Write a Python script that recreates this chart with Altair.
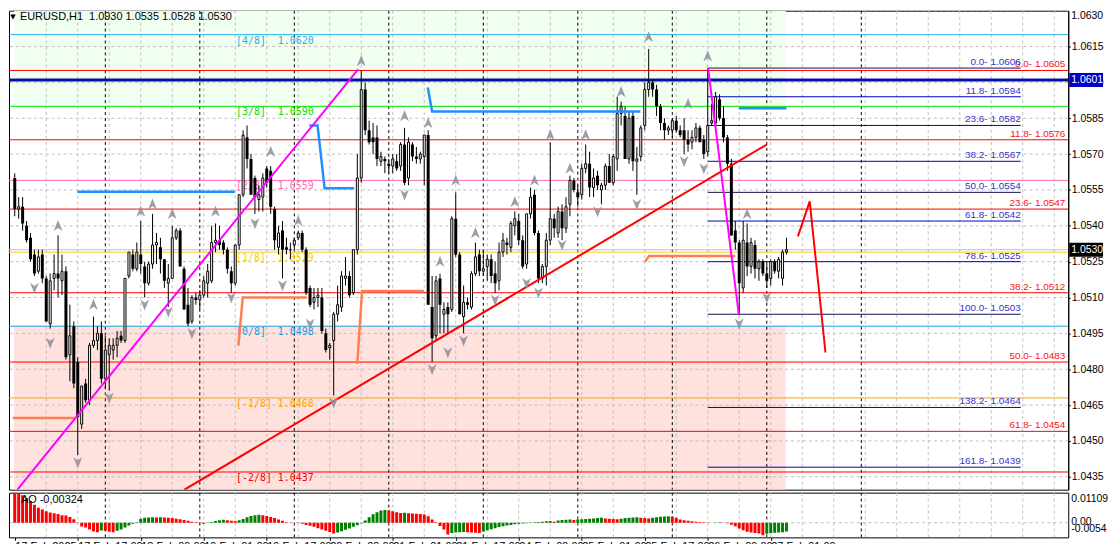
import altair as alt
import pandas as pd

# ---------------- data ----------------
opens = [
    1.0560, 1.0547, 1.0548, 1.0540, 1.0535, 1.0528, 1.0521, 1.0528, 1.0518, 1.0499,
    1.0518, 1.0520, 1.0517, 1.0521, 1.0486, 1.0498, 1.0483, 1.0457, 1.0474, 1.0467,
    1.0490, 1.0492, 1.0495, 1.0476, 1.0486, 1.0488, 1.0490, 1.0494, 1.0492, 1.0519,
    1.0528, 1.0522, 1.0528, 1.0523, 1.0516, 1.0524, 1.0532, 1.0531, 1.0526, 1.0516,
    1.0518, 1.0535, 1.0538, 1.0522, 1.0507, 1.0500, 1.0510, 1.0509, 1.0511, 1.0516,
    1.0517, 1.0533, 1.0534, 1.0533, 1.0530, 1.0521, 1.0516, 1.0532, 1.0553, 1.0577,
    1.0568, 1.0560, 1.0551, 1.0552, 1.0564, 1.0563, 1.0547, 1.0531, 1.0538, 1.0531,
    1.0530, 1.0532, 1.0535, 1.0537, 1.0530, 1.0514, 1.0508, 1.0510, 1.0510, 1.0495,
    1.0489, 1.0492, 1.0503, 1.0506, 1.0518, 1.0519, 1.0512, 1.0530, 1.0560, 1.0597,
    1.0580, 1.0577, 1.0577, 1.0567, 1.0568, 1.0566, 1.0565, 1.0567, 1.0565, 1.0574,
    1.0560, 1.0574, 1.0569, 1.0568, 1.0569, 1.0578, 1.0506, 1.0494, 1.0518, 1.0503,
    1.0506, 1.0505, 1.0543, 1.0528, 1.0502, 1.0508, 1.0506, 1.0520, 1.0528, 1.0521,
    1.0523, 1.0526, 1.0520, 1.0517, 1.0529, 1.0533, 1.0531, 1.0540, 1.0542, 1.0534,
    1.0524, 1.0545, 1.0553, 1.0537, 1.0518, 1.0523, 1.0534, 1.0543, 1.0537, 1.0546,
    1.0539, 1.0549, 1.0559, 1.0554, 1.0553, 1.0564, 1.0566, 1.0556, 1.0561, 1.0555,
    1.0557, 1.0565, 1.0558, 1.0568, 1.0587, 1.0586, 1.0568, 1.0586, 1.0567, 1.0569,
    1.0582, 1.0597, 1.0600, 1.0597, 1.0590, 1.0583, 1.0580, 1.0580, 1.0584, 1.0580,
    1.0580, 1.0576, 1.0575, 1.0577, 1.0581, 1.0576, 1.0571, 1.0583, 1.0583, 1.0593,
    1.0585, 1.0577, 1.0566, 1.0538, 1.0533, 1.0514, 1.0533, 1.0523, 1.0532, 1.0522,
    1.0525, 1.0520, 1.0518, 1.0525, 1.0521, 1.0518, 1.0529]
highs = [
    1.0562, 1.0552, 1.0552, 1.0542, 1.0537, 1.0530, 1.0530, 1.0530, 1.0519, 1.0520,
    1.0528, 1.0536, 1.0528, 1.0523, 1.0507, 1.0500, 1.0485, 1.0473, 1.0476, 1.0491,
    1.0502, 1.0498, 1.0500, 1.0494, 1.0493, 1.0493, 1.0496, 1.0496, 1.0518, 1.0529,
    1.0530, 1.0533, 1.0542, 1.0525, 1.0525, 1.0545, 1.0537, 1.0535, 1.0526, 1.0524,
    1.0540, 1.0539, 1.0539, 1.0523, 1.0514, 1.0511, 1.0512, 1.0513, 1.0519, 1.0524,
    1.0540, 1.0541, 1.0540, 1.0534, 1.0531, 1.0523, 1.0532, 1.0553, 1.0580, 1.0582,
    1.0570, 1.0561, 1.0557, 1.0562, 1.0565, 1.0565, 1.0548, 1.0540, 1.0542, 1.0535,
    1.0533, 1.0535, 1.0538, 1.0538, 1.0531, 1.0515, 1.0514, 1.0514, 1.0514, 1.0497,
    1.0491, 1.0504, 1.0515, 1.0521, 1.0527, 1.0521, 1.0530, 1.0570, 1.0605, 1.0600,
    1.0584, 1.0583, 1.0582, 1.0571, 1.0569, 1.0568, 1.0570, 1.0570, 1.0575, 1.0581,
    1.0577, 1.0575, 1.0573, 1.0571, 1.0578, 1.0580, 1.0519, 1.0519, 1.0520, 1.0508,
    1.0508, 1.0544, 1.0554, 1.0529, 1.0515, 1.0510, 1.0521, 1.0533, 1.0530, 1.0530,
    1.0528, 1.0528, 1.0525, 1.0533, 1.0537, 1.0535, 1.0542, 1.0546, 1.0545, 1.0536,
    1.0545, 1.0556, 1.0555, 1.0538, 1.0524, 1.0537, 1.0575, 1.0545, 1.0548, 1.0549,
    1.0552, 1.0561, 1.0560, 1.0557, 1.0566, 1.0574, 1.0571, 1.0564, 1.0563, 1.0558,
    1.0566, 1.0570, 1.0570, 1.0594, 1.0592, 1.0590, 1.0588, 1.0588, 1.0573, 1.0582,
    1.0600, 1.0614, 1.0601, 1.0599, 1.0591, 1.0585, 1.0582, 1.0585, 1.0586, 1.0582,
    1.0585, 1.0580, 1.0580, 1.0583, 1.0582, 1.0578, 1.0606, 1.0591, 1.0596, 1.0595,
    1.0590, 1.0578, 1.0568, 1.0542, 1.0534, 1.0542, 1.0541, 1.0535, 1.0534, 1.0526,
    1.0526, 1.0524, 1.0526, 1.0526, 1.0527, 1.0530, 1.0535]
lows = [
    1.0544, 1.0543, 1.0538, 1.0533, 1.0525, 1.0519, 1.0520, 1.0516, 1.0500, 1.0497,
    1.0513, 1.0510, 1.0511, 1.0484, 1.0475, 1.0472, 1.0444, 1.0455, 1.0466, 1.0465,
    1.0489, 1.0488, 1.0474, 1.0472, 1.0471, 1.0484, 1.0485, 1.0491, 1.0491, 1.0518,
    1.0521, 1.0521, 1.0520, 1.0510, 1.0515, 1.0522, 1.0524, 1.0520, 1.0514, 1.0506,
    1.0518, 1.0534, 1.0523, 1.0505, 1.0498, 1.0499, 1.0507, 1.0505, 1.0510, 1.0510,
    1.0516, 1.0529, 1.0530, 1.0528, 1.0520, 1.0512, 1.0515, 1.0530, 1.0552, 1.0564,
    1.0553, 1.0545, 1.0546, 1.0546, 1.0556, 1.0545, 1.0530, 1.0528, 1.0518, 1.0528,
    1.0526, 1.0530, 1.0534, 1.0529, 1.0511, 1.0506, 1.0505, 1.0506, 1.0495, 1.0487,
    1.0484, 1.0469, 1.0500, 1.0504, 1.0515, 1.0510, 1.0511, 1.0528, 1.0558, 1.0578,
    1.0574, 1.0570, 1.0565, 1.0565, 1.0562, 1.0562, 1.0562, 1.0563, 1.0563, 1.0557,
    1.0557, 1.0567, 1.0566, 1.0566, 1.0557, 1.0507, 1.0483, 1.0492, 1.0495, 1.0495,
    1.0495, 1.0504, 1.0527, 1.0503, 1.0495, 1.0505, 1.0505, 1.0519, 1.0519, 1.0519,
    1.0517, 1.0516, 1.0512, 1.0513, 1.0527, 1.0528, 1.0529, 1.0536, 1.0532, 1.0522,
    1.0522, 1.0543, 1.0536, 1.0516, 1.0516, 1.0515, 1.0532, 1.0535, 1.0535, 1.0534,
    1.0537, 1.0544, 1.0554, 1.0548, 1.0551, 1.0562, 1.0552, 1.0552, 1.0555, 1.0549,
    1.0555, 1.0558, 1.0557, 1.0563, 1.0582, 1.0568, 1.0566, 1.0563, 1.0553, 1.0567,
    1.0580, 1.0594, 1.0594, 1.0586, 1.0580, 1.0576, 1.0578, 1.0577, 1.0579, 1.0577,
    1.0570, 1.0571, 1.0572, 1.0575, 1.0575, 1.0568, 1.0569, 1.0582, 1.0580, 1.0584,
    1.0575, 1.0563, 1.0536, 1.0530, 1.0503, 1.0512, 1.0519, 1.0520, 1.0518, 1.0517,
    1.0519, 1.0514, 1.0515, 1.0520, 1.0518, 1.0515, 1.0528]
closes = [
    1.0547, 1.0548, 1.0541, 1.0534, 1.0526, 1.0520, 1.0527, 1.0518, 1.0500, 1.0517,
    1.0520, 1.0518, 1.0521, 1.0485, 1.0494, 1.0474, 1.0460, 1.0473, 1.0467, 1.0490,
    1.0492, 1.0495, 1.0476, 1.0488, 1.0490, 1.0490, 1.0493, 1.0492, 1.0518, 1.0529,
    1.0522, 1.0529, 1.0524, 1.0516, 1.0524, 1.0532, 1.0533, 1.0526, 1.0517, 1.0518,
    1.0535, 1.0538, 1.0523, 1.0505, 1.0499, 1.0510, 1.0509, 1.0511, 1.0517, 1.0521,
    1.0533, 1.0534, 1.0532, 1.0530, 1.0522, 1.0516, 1.0532, 1.0553, 1.0578, 1.0568,
    1.0553, 1.0552, 1.0553, 1.0560, 1.0558, 1.0548, 1.0534, 1.0537, 1.0530, 1.0530,
    1.0530, 1.0534, 1.0537, 1.0530, 1.0512, 1.0507, 1.0510, 1.0511, 1.0496, 1.0488,
    1.0490, 1.0503, 1.0507, 1.0519, 1.0519, 1.0511, 1.0530, 1.0560, 1.0597, 1.0580,
    1.0575, 1.0575, 1.0568, 1.0569, 1.0567, 1.0565, 1.0568, 1.0564, 1.0574, 1.0558,
    1.0575, 1.0569, 1.0568, 1.0570, 1.0578, 1.0507, 1.0493, 1.0517, 1.0507, 1.0505,
    1.0503, 1.0543, 1.0528, 1.0503, 1.0508, 1.0507, 1.0520, 1.0527, 1.0521, 1.0522,
    1.0526, 1.0519, 1.0516, 1.0529, 1.0534, 1.0532, 1.0541, 1.0543, 1.0534, 1.0523,
    1.0545, 1.0552, 1.0537, 1.0518, 1.0523, 1.0534, 1.0543, 1.0539, 1.0546, 1.0539,
    1.0548, 1.0559, 1.0555, 1.0552, 1.0564, 1.0566, 1.0556, 1.0560, 1.0557, 1.0557,
    1.0565, 1.0558, 1.0569, 1.0587, 1.0590, 1.0568, 1.0585, 1.0567, 1.0568, 1.0581,
    1.0597, 1.0600, 1.0597, 1.0590, 1.0583, 1.0580, 1.0581, 1.0584, 1.0580, 1.0578,
    1.0576, 1.0574, 1.0577, 1.0581, 1.0575, 1.0570, 1.0582, 1.0584, 1.0594, 1.0585,
    1.0577, 1.0566, 1.0536, 1.0533, 1.0516, 1.0534, 1.0523, 1.0533, 1.0522, 1.0525,
    1.0520, 1.0517, 1.0525, 1.0521, 1.0526, 1.0529, 1.0530]
ao_values = [
    0.0110, 0.0108, 0.0101, 0.0091, 0.0080, 0.0066, 0.0055, 0.0049, 0.0042, 0.0038,
    0.0035, 0.0032, 0.0028, 0.0027, 0.0021, 0.0013, 0.0001, -0.0014, -0.0018, -0.0025,
    -0.0032, -0.0035, -0.0029, -0.0030, -0.0033, -0.0035, -0.0030, -0.0025, -0.0018, -0.0010,
    -0.0004, 0.0002, 0.0015, 0.0018, 0.0019, 0.0020, 0.0019, 0.0020, 0.0019, 0.0018,
    0.0017, 0.0015, 0.0013, 0.0010, 0.0007, 0.0004, 0.0002, -0.0002, -0.0004, 0.0001,
    0.0003, 0.0006, 0.0009, 0.0011, 0.0009, 0.0007, 0.0006, 0.0009, 0.0014, 0.0020,
    0.0025, 0.0028, 0.0029, 0.0028, 0.0025, 0.0021, 0.0017, 0.0012, 0.0007, 0.0002,
    0.0001, 0.0000, -0.0001, -0.0004, -0.0008, -0.0011, -0.0015, -0.0020, -0.0025, -0.0030,
    -0.0034, -0.0040, -0.0036, -0.0031, -0.0026, -0.0021, -0.0015, -0.0009, -0.0002, 0.0008,
    0.0020, 0.0031, 0.0039, 0.0045, 0.0047, 0.0046, 0.0042, 0.0039, 0.0036, 0.0037,
    0.0035, 0.0034, 0.0033, 0.0032, 0.0030, 0.0024, 0.0012, 0.0002, -0.0012, -0.0025,
    -0.0043, -0.0038, -0.0036, -0.0035, -0.0034, -0.0035, -0.0036, -0.0037, -0.0038, -0.0032,
    -0.0028, -0.0024, -0.0020, -0.0016, -0.0013, -0.0010, -0.0008, -0.0006, -0.0004, -0.0003,
    -0.0002, -0.0001, 0.0002, 0.0003, 0.0004, 0.0005, 0.0006, 0.0004, 0.0008, 0.0010,
    0.0011, 0.0012, 0.0010, 0.0012, 0.0013, 0.0014, 0.0015, 0.0016, 0.0017, 0.0018,
    0.0016, 0.0015, 0.0014, 0.0013, 0.0015, 0.0017, 0.0018, 0.0019, 0.0020, 0.0018,
    0.0017, 0.0016, 0.0018, 0.0020, 0.0022, 0.0023, 0.0024, 0.0022, 0.0018, 0.0012,
    0.0009, 0.0007, 0.0005, 0.0004, 0.0003, 0.0002, 0.0001, 0.0000, 0.0001, 0.0002,
    0.0001, -0.0002, -0.0007, -0.0013, -0.0021, -0.0028, -0.0033, -0.0036, -0.0038, -0.0040,
    -0.0046, -0.0041, -0.0039, -0.0037, -0.0036, -0.0035, -0.00324]

price_ticks = [1.0630, 1.0615, 1.0600, 1.0585, 1.0570, 1.0555, 1.0540, 1.0525,
               1.0510, 1.0495, 1.0480, 1.0465, 1.0450, 1.0435]
grid_bars = list(range(8, 265, 8))
separator_bars = [23, 47, 71, 95, 119, 143, 167, 191, 215]
time_label_bars = [0, 16, 32, 48, 64, 80, 96, 112, 128, 144, 160, 176, 192]
time_labels = ["17 Feb 2025", "17 Feb 17:00", "18 Feb 09:00", "19 Feb 01:00",
               "19 Feb 17:00", "20 Feb 09:00", "21 Feb 01:00", "21 Feb 17:00",
               "24 Feb 09:00", "25 Feb 01:00", "25 Feb 17:00", "26 Feb 09:00",
               "27 Feb 01:00"]

NB = "\u00a0"  # keeps the double spaces of the original labels
murrey_levels = [1.0620, 1.0590, 1.0559, 1.0529, 1.0498, 1.0468, 1.0437]
murrey_labels = ["[4/8]" + NB * 2 + "1.0620", "[3/8]" + NB * 2 + "1.0590",
                 "[2/8]" + NB * 2 + "1.0559", "[1/8]" + NB * 2 + "1.0529",
                 "[0/8]" + NB * 2 + "1.0498", "[-1/8]" + NB + "1.0468",
                 "[-2/8]" + NB + "1.0437"]
murrey_colors = ["#2eaee8", "#00e000", "#ff69b4", "#ffcc00", "#1a9ee0", "#ffa500", "#ff0000"]
murrey_label_bar = 56.2
zone_end_bar = 195.8
zone_colors = ["#f0fff0", "#ffe1de"]

red_fib_levels = [1.0605, 1.0576, 1.0547, 1.0512, 1.0483, 1.0454]
red_fib_labels = ["0.0- 1.0605", "11.8- 1.0576", "23.6- 1.0547", "38.2- 1.0512",
                  "50.0- 1.0483", "61.8- 1.0454"]
blue_fib_levels = [1.0606, 1.0594, 1.0582, 1.0567, 1.0554, 1.0542, 1.0525, 1.0503, 1.0464, 1.0439]
blue_fib_labels = ["0.0- 1.0606", "11.8- 1.0594", "23.6- 1.0582", "38.2- 1.0567",
                   "50.0- 1.0554", "61.8- 1.0542", "78.6- 1.0525", "100.0- 1.0503",
                   "138.2- 1.0464", "161.8- 1.0439"]
blue_fib_colors = ["#101050", "#0000c0", "#0000c0", "#0000c0", "#101050",
                   "#0000c0", "#0000c0", "#101050", "#0000c0", "#0000c0"]
fib_start_bar, fib_end_bar = 176.0, 255.5
pivot_price = 1.0601
bid_price = 1.0530

line_bars = [[15.9, 55.9], [74.8, 76.9, 78.7, 86.2], [104.9, 106.0, 158.9], [183.9, 196.0],
             [-0.5, 15.2], [56.8, 57.9, 74.2], [87.0, 88.2, 103.9], [160.1, 161.1, 183.0],
             [0.67, 87.2], [176.1, 183.9],
             [43.1, 191.0],
             [198.9, 201.9, 205.9]]
line_prices = [[1.05543, 1.05543], [1.0582, 1.0582, 1.05557, 1.05557],
               [1.05979, 1.05878, 1.05878], [1.05892, 1.05892],
               [1.04596, 1.04596], [1.04899, 1.0510, 1.0510],
               [1.04823, 1.05127, 1.05127], [1.0525, 1.05274, 1.05274],
               [1.04296, 1.06055], [1.0606, 1.05028],
               [1.04296, 1.0574],
               [1.05356, 1.05502, 1.0487]]
line_colors = ["#1e90ff"] * 4 + ["#ff7f50"] * 4 + ["#ff00ff"] * 2 + ["#ff0000", "#ff0000"]
line_widths = [2.5] * 8 + [2, 2, 2, 2]

up_bars = [11, 20, 32, 35, 40, 51, 65, 72, 88, 99, 105, 108, 112, 117, 127, 132,
           136, 141, 145, 154, 161, 171, 176, 186]
up_prices = [1.0540, 1.0507, 1.0546, 1.0549, 1.0545, 1.0546, 1.0571, 1.0542, 1.0609,
             1.0586, 1.0583, 1.0525, 1.0559, 1.0537, 1.0550, 1.0559, 1.0578, 1.0564,
             1.0578, 1.0596, 1.0619, 1.0591, 1.0611, 1.0545]
down_bars = [5, 9, 16, 24, 33, 39, 45, 55, 61, 68, 75, 81, 99, 106, 110, 114, 122,
             130, 133, 139, 148, 158, 170, 175, 184, 191]
down_prices = [1.0514, 1.0491, 1.0441, 1.0468, 1.0507, 1.0504, 1.0495, 1.0510, 1.0541,
               1.0515, 1.0499, 1.0466, 1.0553, 1.0480, 1.0487, 1.0492, 1.0509, 1.0516,
               1.0512, 1.0532, 1.0546, 1.0549, 1.0567, 1.0564, 1.0499, 1.0510]

title_text = "EURUSD,H1" + NB * 2 + "1.0930 1.0535 1.0528 1.0530"
ao_text = "AO -0,00324"
ao_scale_values = [0.01109, 0.0, -0.0054]
ao_scale_texts = ["0.01109", "0.00", "-0.0054"]

# ---------------- layout ----------------
W, HM, HA = 1066, 482, 45
XDOM = [-0.2, -0.2 + W / 4]
YDOM = [1.04296, 1.0630]
AODOM = [-0.0054, 0.01109]
FONT = "Liberation Sans"
AXFS = 10.5

xs = alt.Scale(domain=XDOM, nice=False, zero=False)
ys = alt.Scale(domain=YDOM, nice=False, zero=False)
ys_ao = alt.Scale(domain=AODOM, nice=False, zero=False)

yaxis = alt.Axis(orient="right", values=price_ticks[1:], format=".4f", title=None,
                 grid=False, labelFont=FONT, labelFontSize=AXFS, labelColor="black",
                 tickColor="black", tickSize=2, labelPadding=1, domainColor="black",
                 labelFlush=False, labelOverlap=False, labelBound=False)


def X(f="bar"):
    return alt.X(f"{f}:Q", scale=xs, axis=None)


def Y(f="p"):
    return alt.Y(f"{f}:Q", scale=ys, axis=yaxis)


candles = pd.DataFrame({"bar": range(len(closes)), "open": opens, "high": highs,
                        "low": lows, "close": closes})

zones = pd.DataFrame({"x0": [XDOM[0]] * 2, "x1": [zone_end_bar] * 2,
                      "p": [murrey_levels[1], YDOM[0]], "p1": [YDOM[1], murrey_levels[4]],
                      "c": zone_colors})
zone_layer = alt.Chart(zones).mark_rect(clip=True).encode(
    x=X("x0"), x2="x1", y=Y("p"), y2="p1", color=alt.Color("c:N", scale=None))

grid_v = alt.Chart(pd.DataFrame({"bar": grid_bars})).mark_rule(
    color="#c0c0c0", strokeDash=[3, 3], strokeWidth=1, clip=True).encode(x=X())
grid_h = alt.Chart(pd.DataFrame({"p": price_ticks})).mark_rule(
    color="#c0c0c0", strokeDash=[3, 3], strokeWidth=1, clip=True).encode(y=Y())
seps = alt.Chart(pd.DataFrame({"bar": separator_bars})).mark_rule(
    color="black", strokeDash=[3, 3], strokeWidth=1, clip=True).encode(x=X())

lv = pd.DataFrame({
    "p": murrey_levels + red_fib_levels + [pivot_price, bid_price],
    "c": murrey_colors + ["#ff0000"] * len(red_fib_levels) + ["#0010a8", "#c0c0c0"],
    "w": [1] * (len(murrey_levels) + len(red_fib_levels)) + [3, 1],
})
levels_layer = alt.Chart(lv).mark_rule(clip=True).encode(
    y=Y(), color=alt.Color("c:N", scale=None), strokeWidth=alt.StrokeWidth("w:Q", scale=None))

mt = pd.DataFrame({"bar": [murrey_label_bar] * len(murrey_levels), "p": murrey_levels,
                   "t": murrey_labels, "c": murrey_colors})
murrey_text = alt.Chart(mt).mark_text(align="left", baseline="middle", dy=6,
                                      font="DejaVu Sans Mono", fontSize=10).encode(
    x=X(), y=Y(), text="t:N", color=alt.Color("c:N", scale=None))

bf = pd.DataFrame({"x0": [fib_start_bar] * len(blue_fib_levels),
                   "x1": [fib_end_bar] * len(blue_fib_levels),
                   "p": blue_fib_levels, "t": blue_fib_labels, "c": blue_fib_colors})
blue_fib_rules = alt.Chart(bf).mark_rule(strokeWidth=1, clip=True).encode(
    x=X("x0"), x2="x1", y=Y(), color=alt.Color("c:N", scale=None))
blue_fib_text = alt.Chart(bf).mark_text(align="right", baseline="middle", dy=-6,
                                        font=FONT, fontSize=10, color="#3434c8").encode(
    x=X("x1"), y=Y(), text="t:N")

rf = pd.DataFrame({"p": red_fib_levels, "t": red_fib_labels})
red_fib_text = alt.Chart(rf).mark_text(align="right", baseline="middle", dy=-6,
                                       font=FONT, fontSize=10, color="#ff1010").encode(
    x=alt.value(W - 3), y=Y(), text="t:N")

wicks = alt.Chart(candles).mark_rule(color="black", strokeWidth=1, clip=True).encode(
    x=X(), y=Y("low"), y2="high")
bull = alt.Chart(candles).transform_filter("datum.close >= datum.open").mark_bar(
    size=2, fill="white", stroke="black", strokeWidth=1, orient="vertical", clip=True).encode(
    x=X(), y=Y("open"), y2="close")
bear = alt.Chart(candles).transform_filter("datum.close < datum.open").mark_bar(
    size=3, color="black", orient="vertical", clip=True).encode(
    x=X(), y=Y("open"), y2="close")

rows = []
for k, (bs, ps) in enumerate(zip(line_bars, line_prices)):
    for i, (b, p) in enumerate(zip(bs, ps)):
        rows.append({"seg": k, "i": i, "bar": b, "p": p,
                     "c": line_colors[k], "w": line_widths[k]})
lines = alt.Chart(pd.DataFrame(rows)).mark_line(clip=True).encode(
    x=X(), y=Y(), detail="seg:N", order="i:Q",
    color=alt.Color("c:N", scale=None), strokeWidth=alt.StrokeWidth("w:Q", scale=None))

UP = "M0,-1L0.75,0.9L0,0.35L-0.75,0.9Z"
DOWN = "M0,1L0.75,-0.9L0,-0.35L-0.75,-0.9Z"
frac_up = alt.Chart(pd.DataFrame({"bar": up_bars, "p": up_prices})).mark_point(
    shape=UP, size=140, filled=True, color="#9292a2", opacity=0.9, clip=True).encode(x=X(), y=Y())
frac_dn = alt.Chart(pd.DataFrame({"bar": down_bars, "p": down_prices})).mark_point(
    shape=DOWN, size=140, filled=True, color="#9292a2", opacity=0.9, clip=True).encode(x=X(), y=Y())

title = alt.Chart(pd.DataFrame({"t": [title_text]})).mark_text(
    align="left", baseline="middle", font=FONT, fontSize=11, color="black").encode(
    x=alt.value(11), y=alt.value(6), text="t:N")
tri = alt.Chart(pd.DataFrame({"t": ["▼"]})).mark_text(
    align="center", baseline="middle", font="DejaVu Sans", fontSize=7, color="black").encode(
    x=alt.value(4), y=alt.value(6), text="t:N")

top_label = alt.Chart(pd.DataFrame({"p": [price_ticks[0]], "t": ["1.0630"]})).mark_text(
    align="left", baseline="top", font=FONT, fontSize=AXFS, color="black").encode(
    x=alt.value(W + 3), y=Y(), text="t:N")

boxes_df = pd.DataFrame({"p": [pivot_price, bid_price], "c": ["#0000c8", "#000000"],
                         "t": ["1.0601", "1.0530"]})
boxes = alt.Chart(boxes_df).transform_calculate(
    hi="datum.p + 0.00029", lo="datum.p - 0.00029").mark_rect().encode(
    x=alt.value(W + 1), x2=alt.value(W + 35), y=Y("hi"), y2="lo",
    color=alt.Color("c:N", scale=None))
box_text = alt.Chart(boxes_df).mark_text(
    align="left", baseline="middle", font=FONT, fontSize=AXFS, color="white").encode(
    x=alt.value(W + 3), y=Y(), text="t:N")

main = alt.layer(zone_layer, grid_v, grid_h, seps, levels_layer, murrey_text,
                 blue_fib_rules, wicks, bull, bear, lines, frac_up, frac_dn,
                 red_fib_text, blue_fib_text, title, tri, top_label, boxes, box_text
                 ).properties(width=W, height=HM)

# ---------------- AO panel ----------------
label_expr = "[" + ",".join(f"'{s}'" for s in time_labels) + "][round(datum.value/16)]"
xaxis_ao = alt.Axis(values=time_label_bars, labelExpr=label_expr, labelAlign="left",
                    labelBaseline="top", labelPadding=0, tickSize=3, tickColor="black",
                    domain=False, grid=False, labelFont=FONT, labelFontSize=11,
                    labelColor="black", labelFlush=False, labelOverlap=False,
                    labelBound=False, title=None)


def XA(f="bar"):
    return alt.X(f"{f}:Q", scale=xs, axis=xaxis_ao)


ao_df = pd.DataFrame({"bar": range(len(ao_values)), "ao": ao_values})
prev = ao_df["ao"].shift(1)
ao_df["c"] = ["#008000" if (pd.notna(pv) and v > pv) else "#ff0000"
              for v, pv in zip(ao_df["ao"], prev)]
ao_df["z"] = 0.0

ao_grid = alt.Chart(pd.DataFrame({"bar": grid_bars})).mark_rule(
    color="#c0c0c0", strokeDash=[3, 3], clip=True).encode(x=XA())
ao_seps = alt.Chart(pd.DataFrame({"bar": separator_bars})).mark_rule(
    color="black", strokeDash=[3, 3], clip=True).encode(x=XA())
ao_zero = alt.Chart(pd.DataFrame({"v": [0.0]})).mark_rule(
    color="#c0c0c0", strokeDash=[3, 3], clip=True).encode(y=alt.Y("v:Q", scale=ys_ao, axis=None))
ao_bars = alt.Chart(ao_df).mark_bar(size=3, orient="vertical", clip=True).encode(
    x=XA(), y=alt.Y("ao:Q", scale=ys_ao, axis=None), y2="z",
    color=alt.Color("c:N", scale=None))
ao_label = alt.Chart(pd.DataFrame({"t": [ao_text]})).mark_text(
    align="left", baseline="middle", font=FONT, fontSize=11, color="black").encode(
    x=alt.value(12), y=alt.value(7), text="t:N")

ao_layers = [ao_grid, ao_seps, ao_zero, ao_bars, ao_label]
for v, t, dy in zip(ao_scale_values, ao_scale_texts, [6, -1, -8]):
    ao_layers.append(alt.Chart(pd.DataFrame({"v": [v], "t": [t]})).mark_text(
        align="left", baseline="middle", dy=dy, font=FONT, fontSize=AXFS, color="black").encode(
        x=alt.value(W + 3), y=alt.Y("v:Q", scale=ys_ao, axis=None), text="t:N"))

ao_chart = alt.layer(*ao_layers).properties(width=W, height=HA)

chart = alt.vconcat(main, ao_chart, spacing=1, padding=0, background="white").configure_view(
    stroke="black", strokeWidth=1)

chart.save("out.html", embed_options={"renderer": "svg", "actions": False})
